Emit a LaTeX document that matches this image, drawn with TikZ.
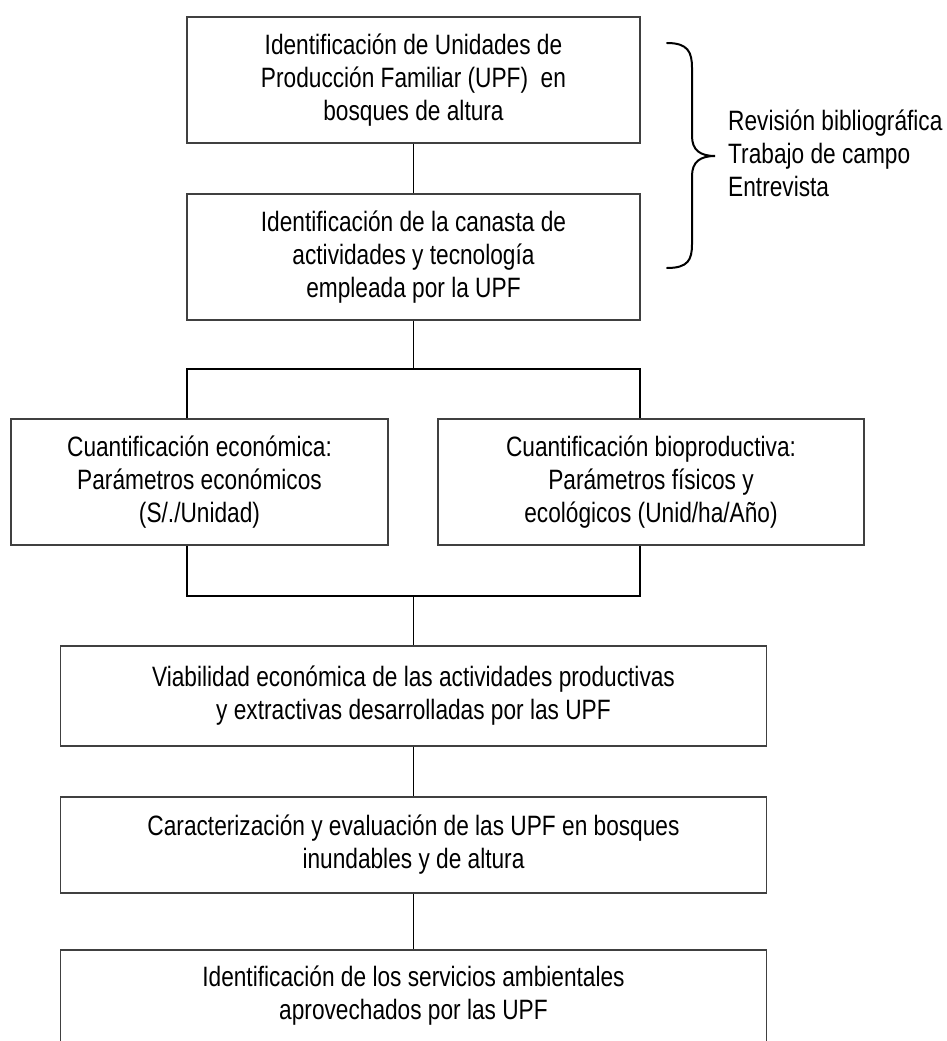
\documentclass[tikz,border=0pt]{standalone}
\usepackage{fontspec}
\setmainfont[FakeStretch=0.81]{Liberation Sans}
\begin{document}
\begin{tikzpicture}[x=1pt,y=-1pt,
  box/.style={draw=black!75, line width=1.3pt, inner sep=0pt, align=center,
    font=\fontsize{28}{33}\selectfont},
  conn/.style={draw=black, line width=1.6pt},
  bracestyle/.style={draw=black, line width=2pt, line cap=round}]
\useasboundingbox (0,0) rectangle (946,1041);
\clip (0,0) rectangle (946,1041);
\node[box, minimum width=453pt, minimum height=126pt] (b1) at (413.5,80)
  {Identificación de Unidades de\\Producción Familiar (UPF)~~en\\bosques de altura};
\node[box, minimum width=453pt, minimum height=126pt] (b2) at (413.5,257)
  {Identificación de la canasta de\\actividades y tecnología\\empleada por la UPF};
\node[box, minimum width=377pt, minimum height=126pt] (lb) at (199.5,482)
  {Cuantificación económica:\\Parámetros económicos\\(S/./Unidad)};
\node[box, minimum width=426pt, minimum height=126pt] (rb) at (651,482)
  {Cuantificación bioproductiva:\\Parámetros físicos y\\ecológicos (Unid/ha/Año)};
\node[box, minimum width=706pt, minimum height=100pt] (v) at (413.5,696)
  {Viabilidad económica de las actividades productivas\\y extractivas desarrolladas por las UPF};
\node[box, minimum width=706pt, minimum height=96pt] (c) at (413.5,845)
  {Caracterización y evaluación de las UPF en bosques\\inundables y de altura};
\node[box, minimum width=706pt, minimum height=92pt] (s) at (413.5,996)
  {Identificación de los servicios ambientales\\aprovechados por las UPF};

\coordinate (j1) at (413.5,369);
\coordinate (j1l) at (187,369);
\coordinate (j1r) at (640,369);
\coordinate (j2) at (413.5,596);
\coordinate (j2l) at (187,596);
\coordinate (j2r) at (640,596);

\draw[conn] (b1.south) -- (b2.north);
\draw[conn] (b2.south) -- (j1);
\draw[conn] (lb.north -| j1l) -- (j1l) -- (j1r) -- (rb.north -| j1r);
\draw[conn] (lb.south -| j2l) -- (j2l) -- (j2r) -- (rb.south -| j2r);
\draw[conn] (j2) -- (v.north);
\draw[conn] (v.south) -- (c.north);
\draw[conn] (c.south) -- (s.north);

\coordinate (bt) at (667,43);
\coordinate (bm) at (715,156);
\coordinate (bb) at (667,268);
\draw[bracestyle] (bt) .. controls (688,43) and (692,52) .. (692,68)
  -- (692,136) .. controls (692,150) and (700,156) .. (bm)
  .. controls (700,156) and (692,162) .. (692,176)
  -- (692,244) .. controls (692,260) and (688,268) .. (bb);
\node[anchor=west, align=left, inner sep=0pt, font=\fontsize{28}{33}\selectfont]
  (t) at (728,153) {Revisión bibliográfica\\Trabajo de campo\\Entrevista};
\end{tikzpicture}
\end{document}
